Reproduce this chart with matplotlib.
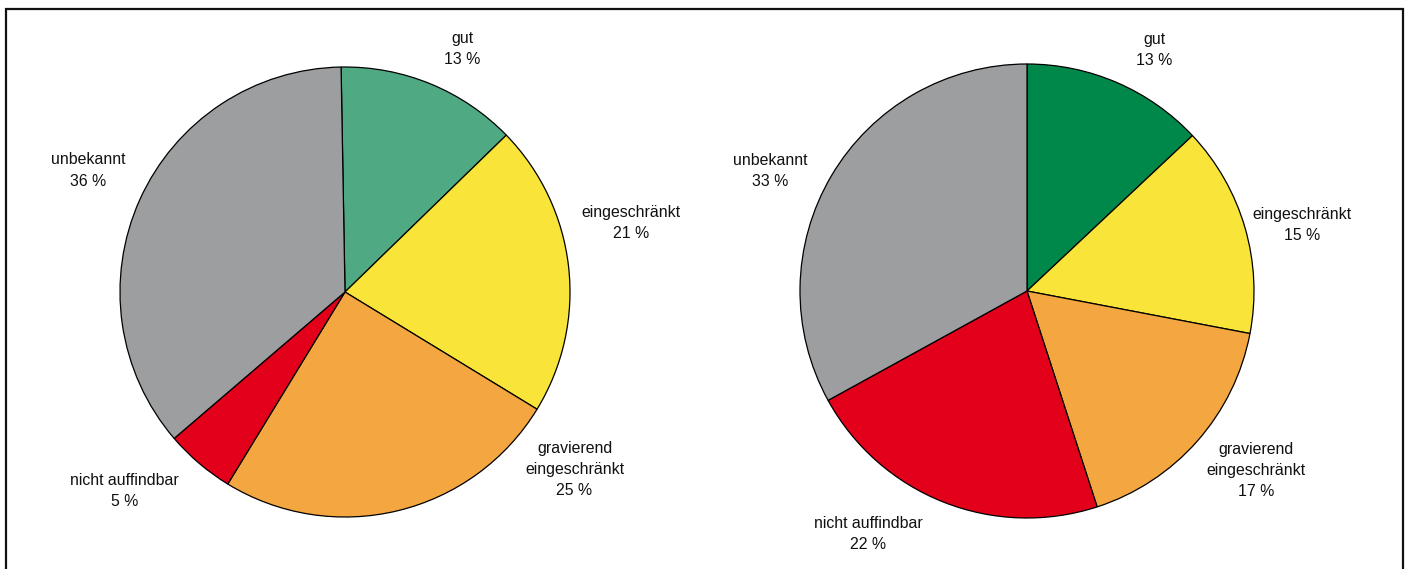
import matplotlib.pyplot as plt
from matplotlib.patches import Rectangle

plt.rcParams['font.family'] = ['Liberation Sans', 'DejaVu Sans']

# data
labels_left = ['gut', 'eingeschränkt', 'gravierend\neingeschränkt', 'nicht auffindbar', 'unbekannt']
values_left = [13, 21, 25, 5, 36]
labels_right = ['gut', 'eingeschränkt', 'gravierend\neingeschränkt', 'nicht auffindbar', 'unbekannt']
values_right = [13, 15, 17, 22, 33]

colors_left = ['#4faa84', '#f9e43a', '#f4a640', '#e2001a', '#9d9ea0']
colors_right = ['#00884a', '#f9e43a', '#f4a640', '#e2001a', '#9d9ea0']

# label positions in pie radius units
pos_left = [(0.52, 1.08), (1.27, 0.305), (1.02, -0.79), (-0.98, -0.885), (-1.14, 0.54)]
pos_right = [(0.56, 1.06), (1.21, 0.29), (1.01, -0.79), (-0.70, -1.07), (-1.13, 0.53)]

W, H = 1410, 569
fig = plt.figure(figsize=(W / 100, H / 100), dpi=100)

# frame around the figure (open at the bottom)
fig.add_artist(Rectangle((6 / W, -0.05), 1397 / W, (H - 9) / H + 0.05, transform=fig.transFigure,
                         fill=False, edgecolor='#111111', linewidth=1.6))


def draw_pie(cx, cy, r, values, labels, colors, pos, startangle):
    xl, yl = 1.5, 1.25
    w = 2 * xl * r
    h = 2 * yl * r
    ax = fig.add_axes([(cx - w / 2) / W, (H - cy - h / 2) / H, w / W, h / H])
    ax.pie(values, colors=colors, startangle=startangle, counterclock=False,
           wedgeprops=dict(edgecolor='black', linewidth=0.9))
    ax.set_xlim(-xl, xl)
    ax.set_ylim(-yl, yl)
    ax.set_aspect('equal')
    ax.axis('off')
    for lab, v, (x, y) in zip(labels, values, pos):
        ax.text(x, y, f'{lab}\n{v} %', ha='center', va='center', fontsize=11.4,
                linespacing=1.5, color='#111111')


draw_pie(345, 292, 225, values_left, labels_left, colors_left, pos_left, 91)
draw_pie(1027, 291, 227, values_right, labels_right, colors_right, pos_right, 90)

fig.savefig('out.png', dpi=100)
